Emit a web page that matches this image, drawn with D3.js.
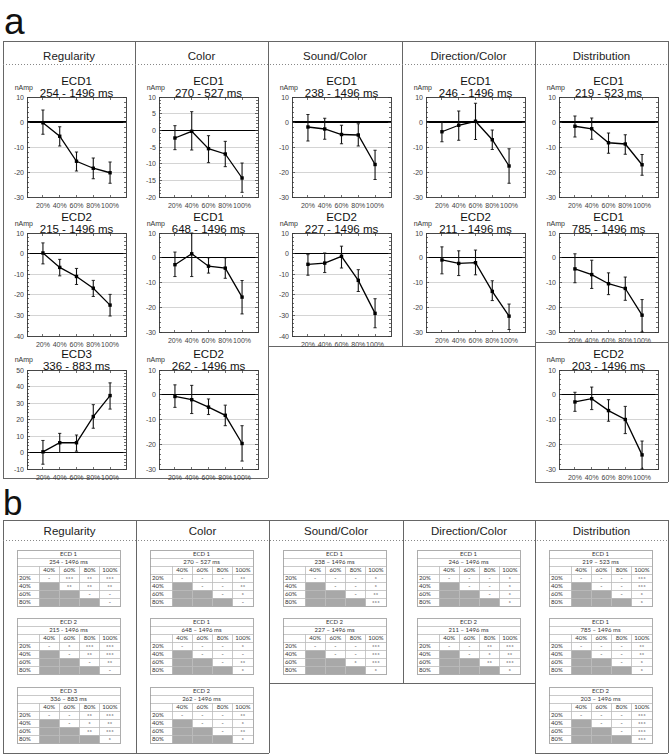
<!DOCTYPE html>
<html><head><meta charset="utf-8">
<script src="https://cdn.jsdelivr.net/npm/d3@7"></script>
<style>body{margin:0;background:#fff}svg{display:block}</style>
</head><body>
<script>
// ---------------- DATA ----------------
const categories = ["20%", "40%", "60%", "80%", "100%"];
const conditions = ["Regularity", "Color", "Sound/Color", "Direction/Color", "Distribution"];
const tableCols = ["40%", "60%", "80%", "100%"];
const tableRows = ["20%", "40%", "60%", "80%"];

// Panel a: mean amplitude (nAmp), upper and lower error-bar ends
const regECD1 = [-0.3, -5.7, -15.7, -18.5, -20.3];
const regECD1Hi = [4.8, -1.9, -12, -14.4, -16];
const regECD1Lo = [-4.9, -9.6, -19.6, -22.7, -24.5];
const regECD2 = [0.3, -6.7, -11.1, -16.8, -25];
const regECD2Hi = [5.2, -2.8, -7.2, -13, -19.8];
const regECD2Lo = [-5, -10.8, -15, -20.8, -30.3];
const regECD3 = [0.4, 5.9, 5.9, 21.8, 34.5];
const regECD3Hi = [7.3, 11.6, 10.6, 29, 42.2];
const regECD3Lo = [-7.1, 0, 0.8, 14.7, 26.3];

const colECD1a = [-2.3, -0.3, -5.5, -7.1, -14.3];
const colECD1aHi = [1.4, 5.6, -1.6, -3.3, -9.8];
const colECD1aLo = [-5.8, -5.9, -9.7, -10.9, -18.6];
const colECD1b = [-2.8, 1.6, -3.4, -4.2, -15.9];
const colECD1bHi = [2.3, 10, 0, 0, -9.2];
const colECD1bLo = [-7.6, -7.6, -6.2, -8.3, -22.7];
const colECD2 = [-0.7, -2, -5, -8.3, -19.7];
const colECD2Hi = [4, 3.8, -1.7, -4.2, -12.5];
const colECD2Lo = [-5.1, -7.6, -8, -12.5, -26.8];

const sndECD1 = [-2, -2.8, -5, -5.2, -17];
const sndECD1Hi = [3, 1.5, -1.3, -0.7, -11.3];
const sndECD1Lo = [-7.6, -6.9, -8.7, -9.6, -23];
const sndECD2 = [-5.2, -4.6, -1.3, -13, -29];
const sndECD2Hi = [-0.5, 0.3, 3.6, -7.8, -21.9];
const sndECD2Lo = [-10.5, -9.2, -7, -18.4, -36];

const dirECD1 = [-3.9, -1.3, 0.3, -7.1, -17.6];
const dirECD1Hi = [0, 4.4, 7.5, -3.2, -10.7];
const dirECD1Lo = [-7.9, -7.3, -7, -11, -24.5];
const dirECD2 = [-0.9, -2.3, -2, -13.6, -23.6];
const dirECD2Hi = [4.4, 2.8, 3.1, -9.3, -18.7];
const dirECD2Lo = [-6.5, -7.2, -6.9, -17.3, -29];

const disECD1a = [-1.7, -2.7, -8.3, -8.8, -17.1];
const disECD1aHi = [2.4, 1.6, -4.4, -5.1, -13];
const disECD1aLo = [-6, -6.9, -12.5, -12.9, -21.3];
const disECD1b = [-4.5, -6.8, -10.5, -12.4, -23.2];
const disECD1bHi = [1.6, -1, -6.1, -7.8, -16.9];
const disECD1bLo = [-10.1, -12.4, -14.9, -17.2, -30];
const disECD2 = [-2.9, -1.6, -6.4, -10, -24.3];
const disECD2Hi = [1, 3.1, -2, -4.7, -18.7];
const disECD2Lo = [-6.7, -6, -10.7, -15.7, -30];

// chart list: column, row, labels, y-axis tick range
const charts = [
  {col: 0, row: 0, ecd: "ECD1", win: "254 - 1496 ms", mean: regECD1, hi: regECD1Hi, lo: regECD1Lo, yMin: -30, yMax: 10, yStep: 10},
  {col: 0, row: 1, ecd: "ECD2", win: "215 - 1496 ms", mean: regECD2, hi: regECD2Hi, lo: regECD2Lo, yMin: -40, yMax: 10, yStep: 10},
  {col: 0, row: 2, ecd: "ECD3", win: "336 - 883 ms", mean: regECD3, hi: regECD3Hi, lo: regECD3Lo, yMin: -10, yMax: 50, yStep: 10},
  {col: 1, row: 0, ecd: "ECD1", win: "270 - 527 ms", mean: colECD1a, hi: colECD1aHi, lo: colECD1aLo, yMin: -20, yMax: 10, yStep: 5},
  {col: 1, row: 1, ecd: "ECD1", win: "648 - 1496 ms", mean: colECD1b, hi: colECD1bHi, lo: colECD1bLo, yMin: -30, yMax: 10, yStep: 10},
  {col: 1, row: 2, ecd: "ECD2", win: "262 - 1496 ms", mean: colECD2, hi: colECD2Hi, lo: colECD2Lo, yMin: -30, yMax: 10, yStep: 10},
  {col: 2, row: 0, ecd: "ECD1", win: "238 - 1496 ms", mean: sndECD1, hi: sndECD1Hi, lo: sndECD1Lo, yMin: -30, yMax: 10, yStep: 10},
  {col: 2, row: 1, ecd: "ECD2", win: "227 - 1496 ms", mean: sndECD2, hi: sndECD2Hi, lo: sndECD2Lo, yMin: -40, yMax: 10, yStep: 10},
  {col: 3, row: 0, ecd: "ECD1", win: "246 - 1496 ms", mean: dirECD1, hi: dirECD1Hi, lo: dirECD1Lo, yMin: -30, yMax: 10, yStep: 10},
  {col: 3, row: 1, ecd: "ECD2", win: "211 - 1496 ms", mean: dirECD2, hi: dirECD2Hi, lo: dirECD2Lo, yMin: -30, yMax: 10, yStep: 10},
  {col: 4, row: 0, ecd: "ECD1", win: "219 - 523 ms", mean: disECD1a, hi: disECD1aHi, lo: disECD1aLo, yMin: -30, yMax: 10, yStep: 10},
  {col: 4, row: 1, ecd: "ECD1", win: "785 - 1496 ms", mean: disECD1b, hi: disECD1bHi, lo: disECD1bLo, yMin: -30, yMax: 10, yStep: 10},
  {col: 4, row: 2, ecd: "ECD2", win: "203 - 1496 ms", mean: disECD2, hi: disECD2Hi, lo: disECD2Lo, yMin: -30, yMax: 10, yStep: 10}
];

// Panel b: significance of pairwise comparisons (row condition vs column condition)
const sigRegECD1 = [["-", "***", "**", "***"], ["", "**", "**", "**"], ["", "", "-", "-"], ["", "", "", "-"]];
const sigRegECD2 = [["-", "*", "***", "***"], ["", "-", "**", "***"], ["", "", "-", "**"], ["", "", "", "-"]];
const sigRegECD3 = [["-", "-", "**", "***"], ["", "-", "*", "**"], ["", "", "**", "***"], ["", "", "", "*"]];
const sigColECD1a = [["-", "-", "-", "**"], ["", "-", "-", "**"], ["", "", "-", "*"], ["", "", "", "-"]];
const sigColECD1b = [["-", "-", "-", "*"], ["", "-", "-", "-"], ["", "", "-", "**"], ["", "", "", "*"]];
const sigColECD2 = [["-", "-", "-", "**"], ["", "-", "-", "*"], ["", "", "-", "**"], ["", "", "", "*"]];
const sigSndECD1 = [["-", "-", "-", "*"], ["", "-", "-", "*"], ["", "", "-", "**"], ["", "", "", "***"]];
const sigSndECD2 = [["-", "-", "-", "***"], ["", "-", "-", "***"], ["", "", "*", "***"], ["", "", "", "*"]];
const sigDirECD1 = [["-", "-", "-", "*"], ["", "-", "-", "*"], ["", "", "-", "*"], ["", "", "", "*"]];
const sigDirECD2 = [["-", "-", "**", "***"], ["", "-", "*", "**"], ["", "", "**", "***"], ["", "", "", "*"]];
const sigDisECD1a = [["-", "-", "-", "***"], ["", "-", "-", "***"], ["", "", "-", "*"], ["", "", "", "*"]];
const sigDisECD1b = [["-", "-", "-", "**"], ["", "-", "-", "**"], ["", "", "-", "*"], ["", "", "", "*"]];
const sigDisECD2 = [["-", "-", "-", "***"], ["", "-", "-", "***"], ["", "", "-", "***"], ["", "", "", "***"]];

const tables = [
  {col: 0, slot: 0, ecd: "ECD 1", win: "254 - 1496 ms", cells: sigRegECD1},
  {col: 0, slot: 1, ecd: "ECD 2", win: "215 - 1496 ms", cells: sigRegECD2},
  {col: 0, slot: 2, ecd: "ECD 3", win: "336 \u2013 883 ms", cells: sigRegECD3},
  {col: 1, slot: 0, ecd: "ECD 1", win: "270 \u2013 527 ms", cells: sigColECD1a},
  {col: 1, slot: 1, ecd: "ECD 1", win: "648 \u2013 1496 ms", cells: sigColECD1b},
  {col: 1, slot: 2, ecd: "ECD 2", win: "262 - 1496 ms", cells: sigColECD2},
  {col: 2, slot: 0, ecd: "ECD 1", win: "238 \u2013 1496 ms", cells: sigSndECD1},
  {col: 2, slot: 1, ecd: "ECD 2", win: "227 \u2013 1496 ms", cells: sigSndECD2},
  {col: 3, slot: 0, ecd: "ECD 1", win: "246 \u2013 1496 ms", cells: sigDirECD1},
  {col: 3, slot: 1, ecd: "ECD 2", win: "211 \u2013 1496 ms", cells: sigDirECD2},
  {col: 4, slot: 0, ecd: "ECD 1", win: "219 \u2013 523 ms", cells: sigDisECD1a},
  {col: 4, slot: 1, ecd: "ECD 1", win: "785 \u2013 1496 ms", cells: sigDisECD1b},
  {col: 4, slot: 2, ecd: "ECD 2", win: "203 \u2013 1496 ms", cells: sigDisECD2}
];

// ---------------- LAYOUT ----------------
const W = 670, H = 755;
const FONT = "'Liberation Sans', Arial, sans-serif";
const TFONT = "Lato, 'Open Sans', sans-serif";
const colXa = [3, 135, 268, 402, 535, 668];
const colXb = [3, 136, 269, 403, 535, 668];
const rowLayout = [
  {title: 84.5, sub: 96.5, nAmp: 89.5, top: 97},
  {title: 220.5, sub: 232.5, nAmp: 226, top: 233},
  {title: 357.5, sub: 369.5, nAmp: 361.5, top: 370}
];
const tableTops = [550, 618, 687];

const svg = d3.select("body").append("svg").attr("width", W).attr("height", H)
  .style("font-family", FONT);

function line(g, x1, y1, x2, y2, stroke, sw, dash) {
  const l = g.append("line").attr("x1", x1).attr("y1", y1).attr("x2", x2).attr("y2", y2)
    .attr("stroke", stroke).attr("stroke-width", sw).attr("shape-rendering", "crispEdges");
  if (dash) l.attr("stroke-dasharray", dash);
  return l;
}

// ---------- Panel letters ----------
svg.append("text").attr("x", 4).attr("y", 34).attr("font-size", 37).attr("fill", "#111").text("a");
svg.append("text").attr("x", 3).attr("y", 515).attr("font-size", 35).attr("fill", "#111").text("b");

// ---------- Panel a frame ----------
const fa = svg.append("g");
const frameC = "#666";
line(fa, 3, 41, 668, 41, frameC, 1);
line(fa, 3, 41, 3, 478, frameC, 1);
line(fa, 135, 41, 135, 478, frameC, 1);
line(fa, 268, 41, 268, 478, frameC, 1);
line(fa, 402, 41, 402, 346, frameC, 1);
line(fa, 535, 41, 535, 482, frameC, 1);
line(fa, 668, 41, 668, 482, frameC, 1);
line(fa, 3, 478, 268, 478, frameC, 1);
line(fa, 268, 346, 535, 346, frameC, 1);
line(fa, 535, 342, 668, 342, frameC, 1);
line(fa, 535, 482, 668, 482, frameC, 1);
line(fa, 3, 64, 668, 64, "#888", 1, "1,2");
conditions.forEach((c, i) => {
  fa.append("text").attr("x", (colXa[i] + colXa[i + 1]) / 2).attr("y", 59.5)
    .attr("text-anchor", "middle").attr("font-size", 11.5).attr("fill", "#222").text(c);
});

// ---------- Charts ----------
charts.forEach(ch => {
  const g = svg.append("g");
  const L = colXa[ch.col] + 24, R = colXa[ch.col] + 123;
  const rl = rowLayout[ch.row];
  const nInt = (ch.yMax - ch.yMin) / ch.yStep;
  const ph = ch.row === 0 ? 100 : (ch.row === 1 ? (nInt === 5 ? 103 : 99) : 99);
  const T = rl.top, B = T + ph;
  const x = d3.scalePoint().domain(categories).range([L, R]).padding(0.95);
  const y = d3.scaleLinear().domain([ch.yMin, ch.yMax]).range([B, T]);
  const majors = d3.range(ch.yMin, ch.yMax + 0.001, ch.yStep);
  const minors = d3.range(ch.yMin, ch.yMax + 0.001, ch.yStep / 5);

  // grid
  majors.forEach(v => { if (v !== ch.yMin && v !== ch.yMax && v !== 0) line(g, L, y(v), R, y(v), "#d4d4d4", 1); });
  // zero line
  if (ch.yMin < 0 && ch.yMax > 0) line(g, L, y(0), R, y(0), "#000", 1.4);
  // frame
  g.append("rect").attr("x", L).attr("y", T).attr("width", R - L).attr("height", ph)
    .attr("fill", "none").attr("stroke", "#333").attr("stroke-width", 0.9).attr("shape-rendering", "crispEdges");
  // minor & major ticks
  minors.forEach(v => {
    const isMaj = majors.some(m => Math.abs(m - v) < 1e-6);
    const len = isMaj ? 3 : 1.8;
    line(g, L, y(v), L + len, y(v), "#333", 0.7);
    line(g, R - len, y(v), R, y(v), "#333", 0.7);
  });
  categories.forEach(c => {
    line(g, x(c), B, x(c), B - 2.5, "#333", 0.7);
    line(g, x(c), T, x(c), T + 2.5, "#333", 0.7);
  });
  // y labels
  majors.forEach(v => {
    g.append("text").attr("x", L - 3).attr("y", y(v) + 2.5).attr("text-anchor", "end")
      .attr("font-size", 7).attr("fill", "#444").text(String(v));
  });
  // x labels
  categories.forEach(c => {
    g.append("text").attr("x", x(c)).attr("y", B + 10.5).attr("text-anchor", "middle")
      .attr("font-size", 7).attr("fill", "#444").text(c);
  });
  // titles
  const cx = (L + R) / 2;
  g.append("text").attr("x", cx).attr("y", rl.title).attr("text-anchor", "middle")
    .attr("font-size", 11.5).attr("fill", "#111").text(ch.ecd);
  g.append("text").attr("x", cx).attr("y", rl.sub).attr("text-anchor", "middle")
    .attr("font-size", 11.5).attr("fill", "#111").text(ch.win);
  g.append("text").attr("x", L + 6).attr("y", rl.nAmp).attr("text-anchor", "end")
    .attr("font-size", 7).attr("fill", "#333").text("nAmp");
  // error bars
  categories.forEach((c, i) => {
    const xi = x(c);
    const yh = y(Math.min(ch.hi[i], ch.yMax)), yl = y(Math.max(ch.lo[i], ch.yMin));
    g.append("line").attr("x1", xi).attr("x2", xi).attr("y1", yh).attr("y2", yl)
      .attr("stroke", "#111").attr("stroke-width", 1.1);
    g.append("line").attr("x1", xi - 1.6).attr("x2", xi + 1.6).attr("y1", yh).attr("y2", yh)
      .attr("stroke", "#111").attr("stroke-width", 0.9);
    g.append("line").attr("x1", xi - 1.6).attr("x2", xi + 1.6).attr("y1", yl).attr("y2", yl)
      .attr("stroke", "#111").attr("stroke-width", 0.9);
  });
  // mean line
  g.append("path").datum(ch.mean)
    .attr("d", d3.line().x((d, i) => x(categories[i])).y(d => y(d)))
    .attr("fill", "none").attr("stroke", "#000").attr("stroke-width", 1.3);
  g.selectAll("rect.pt").data(ch.mean).enter().append("rect").attr("class", "pt")
    .attr("x", (d, i) => x(categories[i]) - 1.7).attr("y", d => y(d) - 1.7)
    .attr("width", 3.4).attr("height", 3.4).attr("fill", "#000");
});

// ---------- Panel b frame ----------
const fb = svg.append("g");
line(fb, 3, 520, 668, 520, frameC, 1);
line(fb, 3, 520, 3, 753, frameC, 1);
line(fb, 136, 520, 136, 753, frameC, 1);
line(fb, 269, 520, 269, 753, frameC, 1);
line(fb, 403, 520, 403, 683, frameC, 1);
line(fb, 535, 520, 535, 753, frameC, 1);
line(fb, 668, 520, 668, 753, frameC, 1);
line(fb, 3, 753, 269, 753, frameC, 1);
line(fb, 269, 683, 535, 683, frameC, 1);
line(fb, 535, 753, 668, 753, frameC, 1);
line(fb, 3, 540, 668, 540, "#888", 1, "1,2");
conditions.forEach((c, i) => {
  fb.append("text").attr("x", (colXb[i] + colXb[i + 1]) / 2).attr("y", 534.5)
    .attr("text-anchor", "middle").attr("font-size", 11.5).attr("fill", "#222").text(c);
});

// ---------- Tables ----------
tables.forEach(tb => {
  const g = svg.append("g").style("font-family", TFONT);
  const x0 = colXb[tb.col] + 14, tw = 103, rh = 8, y0 = tableTops[tb.slot];
  const firstW = 22;
  const xc = d3.scaleBand().domain(tableCols).range([x0 + firstW, x0 + tw]);
  const yr = d3.scaleBand().domain(["t", "w", "h"].concat(tableRows)).range([y0, y0 + rh * 7]);
  // gray cells
  tb.cells.forEach((row, ri) => row.forEach((v, ci) => {
    if (ci < ri) g.append("rect").attr("x", xc(tableCols[ci])).attr("y", yr(tableRows[ri]))
      .attr("width", xc.bandwidth()).attr("height", yr.bandwidth()).attr("fill", "#a8a8a8");
  }));
  // horizontal inner lines
  ["w", "h"].concat(tableRows).forEach(k => line(g, x0, yr(k), x0 + tw, yr(k), "#bbb", 0.8));
  // vertical inner lines (header + data rows)
  [x0 + firstW].concat(tableCols.slice(1).map(c => xc(c))).forEach(xv =>
    line(g, xv, yr("h"), xv, y0 + rh * 7, "#bbb", 0.8));
  g.append("rect").attr("x", x0).attr("y", y0).attr("width", tw).attr("height", rh * 7)
    .attr("fill", "none").attr("stroke", "#999").attr("stroke-width", 0.8).attr("shape-rendering", "crispEdges");
  const fs = 6, off = 2.2;
  g.append("text").attr("x", x0 + tw / 2).attr("y", yr("t") + rh / 2 + off).attr("text-anchor", "middle")
    .attr("font-size", fs).attr("fill", "#333").text(tb.ecd);
  g.append("text").attr("x", x0 + tw / 2).attr("y", yr("w") + rh / 2 + off).attr("text-anchor", "middle")
    .attr("font-size", fs).attr("fill", "#333").text(tb.win);
  tableCols.forEach(c => g.append("text").attr("x", xc(c) + xc.bandwidth() / 2).attr("y", yr("h") + rh / 2 + off)
    .attr("text-anchor", "middle").attr("font-size", fs).attr("fill", "#333").text(c));
  tableRows.forEach((r, ri) => {
    g.append("text").attr("x", x0 + 2).attr("y", yr(r) + rh / 2 + off)
      .attr("font-size", fs).attr("fill", "#333").text(r);
    tb.cells[ri].forEach((v, ci) => {
      if (ci >= ri && v) g.append("text").attr("x", xc(tableCols[ci]) + xc.bandwidth() / 2)
        .attr("y", yr(r) + rh / 2 + (v === "-" ? off : off + 1.2)).attr("text-anchor", "middle")
        .attr("font-size", fs).attr("fill", "#333").text(v);
    });
  });
});
</script>
</body></html>
